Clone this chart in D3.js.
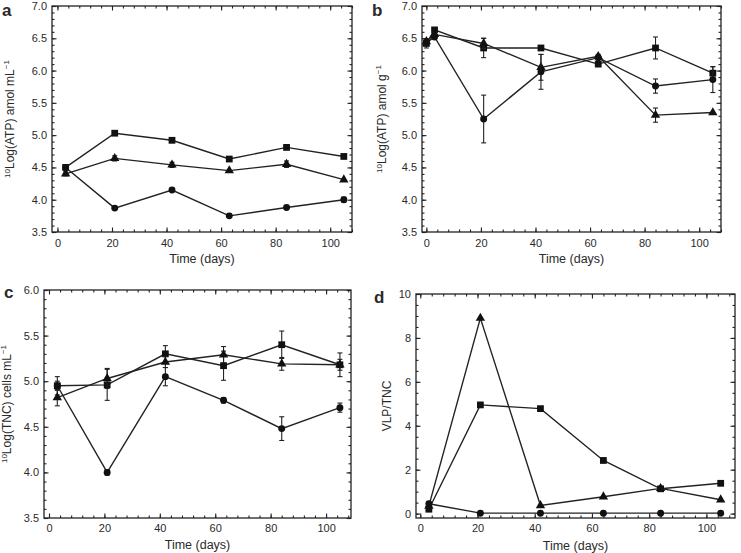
<!DOCTYPE html>
<html><head><meta charset="utf-8">
<script src="https://cdn.jsdelivr.net/npm/d3@7"></script>
<style>body{margin:0;background:#fff}svg{display:block}text{font-family:"Liberation Sans",Arial,sans-serif;fill:#2a2a2a}</style>
</head><body><svg id="c" width="741" height="553"></svg>
<script>
// ---- data ----
const daysA = [3, 21, 42, 63, 84, 105];
const atpWaterSq  = [4.50, 5.03, 4.92, 4.63, 4.81, 4.67];
const atpWaterTri = [4.40, 4.64, 4.54, 4.45, 4.55, 4.31];
const atpWaterCir = [4.50, 3.87, 4.15, 3.75, 3.88, 4.00];
const atpWaterSqErr  = [0.03, 0.02, 0.02, 0.02, 0.03, 0.02];
const atpWaterTriErr = [0.03, 0.04, 0.04, 0.02, 0.05, 0.02];
const atpWaterCirErr = [0.03, 0.02, 0.02, 0.02, 0.03, 0.04];

const daysB = [0, 3, 21, 42, 63, 84, 105];
const atpSedSq  = [6.42, 6.63, 6.35, 6.35, 6.10, 6.35, 5.96];
const atpSedTri = [6.45, 6.56, 6.42, 6.05, 6.22, 5.31, 5.35];
const atpSedCir = [6.43, 6.52, 5.25, 5.98, 6.20, 5.76, 5.86];
const atpSedSqErr  = [0.07, 0.03, 0.15, 0.03, 0.02, 0.17, 0.10];
const atpSedTriErr = [0.04, 0.03, 0.08, 0.20, 0.03, 0.11, 0.02];
const atpSedCirErr = [0.04, 0.03, 0.37, 0.27, 0.03, 0.11, 0.20];

const daysC = [3, 21, 42, 63, 84, 105];
const tncSq  = [4.95, 4.96, 5.30, 5.17, 5.40, 5.18];
const tncTri = [4.82, 5.03, 5.21, 5.29, 5.19, 5.18];
const tncCir = [4.95, 4.00, 5.05, 4.79, 4.48, 4.71];
const tncSqErr  = [0.10, 0.17, 0.09, 0.16, 0.15, 0.13];
const tncTriErr = [0.09, 0.11, 0.06, 0.09, 0.07, 0.06];
const tncCirErr = [0.05, 0.03, 0.10, 0.03, 0.13, 0.05];

const daysD = [3, 21, 42, 64, 84, 105];
const vlpSq  = [0.20, 4.95, 4.78, 2.42, 1.13, 1.38];
const vlpTri = [0.35, 8.90, 0.37, 0.77, 1.15, 0.63];
const vlpCir = [0.45, 0.02, 0.02, 0.02, 0.02, 0.02];

const xTicks = [0, 20, 40, 60, 80, 100];
const panelLetters = ["a", "b", "c", "d"];
const xTitle = "Time (days)";

// ---- layout ----
const svg = d3.select("#c");
const panels = [
  {letter:panelLetters[0], box:[52,352,6,232], xd:[-2,108], yd:[3.5,7.0], yMaj:d3.range(3.5,7.01,0.5), yMin:0.1, fmt:d3.format(".1f"),
   days:daysA, series:[[atpWaterSq,atpWaterSqErr,"sq"],[atpWaterTri,atpWaterTriErr,"tri"],[atpWaterCir,atpWaterCirErr,"cir"]],
   ylab:["10","Log(ATP) amol mL","\u22121"], ylx:14, lpos:[2,16], tickY:247, titleY:263},
  {letter:panelLetters[1], box:[422,721,6,232], xd:[-1.6,108], yd:[3.5,7.0], yMaj:d3.range(3.5,7.01,0.5), yMin:0.1, fmt:d3.format(".1f"),
   days:daysB, series:[[atpSedSq,atpSedSqErr,"sq"],[atpSedTri,atpSedTriErr,"tri"],[atpSedCir,atpSedCirErr,"cir"]],
   ylab:["10","Log(ATP) amol g","\u22121"], ylx:386, lpos:[372,16], tickY:247, titleY:263},
  {letter:panelLetters[2], box:[44,351,290,518], xd:[-1.8,109], yd:[3.5,6.0], yMaj:d3.range(3.5,6.01,0.5), yMin:0.1, fmt:d3.format(".1f"),
   days:daysC, series:[[tncSq,tncSqErr,"sq"],[tncTri,tncTriErr,"tri"],[tncCir,tncCirErr,"cir"]],
   ylab:["10","Log(TNC) cells mL","\u22121"], ylx:11, lpos:[4,298], tickY:532, titleY:549},
  {letter:panelLetters[3], box:[416,735,294,518], xd:[-1.5,110], yd:[-0.2,10], yMaj:d3.range(0,10.01,2), yMin:0.5, fmt:d3.format("d"),
   days:daysD, series:[[vlpSq,null,"sq"],[vlpTri,null,"tri"],[vlpCir,null,"cir"]],
   ylab:[null,"VLP/TNC",null], ylx:391, lpos:[374,303], tickY:532, titleY:550}
];

const ink = "#222";
panels.forEach(p => {
  const [x0,x1,y0,y1] = p.box;
  const x = d3.scaleLinear().domain(p.xd).range([x0,x1]);
  const y = d3.scaleLinear().domain(p.yd).range([y1,y0]);
  const g = svg.append("g");
  const xMinor = d3.range(0, 110, 4).filter(v => v>=p.xd[0] && v<=p.xd[1]);
  const yMinor = d3.range(Math.ceil(p.yd[0]/p.yMin)*p.yMin, p.yd[1]+1e-9, p.yMin).map(v=>+v.toFixed(3));

  function ax(gen, tr, vals, size, labels){
    const a = g.append("g").attr("transform", tr).call(gen.tickValues(vals).tickSize(size).tickSizeOuter(0).tickPadding(6).tickFormat(labels||(()=>"")));
    a.select(".domain").remove();
    a.selectAll("line").attr("stroke", ink).attr("stroke-width", 1.1);
    a.selectAll("text").attr("font-size", 11).attr("fill","#2a2a2a");
    return a;
  }
  ax(d3.axisBottom(x), `translate(0,${y1})`, xMinor, -2.5);
  ax(d3.axisTop(x), `translate(0,${y0})`, xMinor, -2.5);
  ax(d3.axisLeft(y), `translate(${x0},0)`, yMinor, -2.5);
  ax(d3.axisRight(y), `translate(${x1},0)`, yMinor, -2.5);
  const bx = ax(d3.axisBottom(x), `translate(0,${y1})`, xTicks, -4.5, d3.format("d"));
  bx.selectAll("text").attr("dy", null).attr("y", p.tickY - y1);
  ax(d3.axisTop(x), `translate(0,${y0})`, xTicks, -4.5);
  const ly = ax(d3.axisLeft(y), `translate(${x0},0)`, p.yMaj, -4.5, p.fmt);
  ly.selectAll("text").attr("x", -5);
  ax(d3.axisRight(y), `translate(${x1},0)`, p.yMaj, -4.5);

  g.append("rect").attr("x",x0).attr("y",y0).attr("width",x1-x0).attr("height",y1-y0)
    .attr("fill","none").attr("stroke",ink).attr("stroke-width",1.3);

  g.append("text").attr("x",(x0+x1)/2).attr("y",p.titleY).attr("text-anchor","middle").attr("font-size",12.5).text(xTitle);
  const yt = g.append("text").attr("transform",`translate(${p.ylx},${(y0+y1)/2}) rotate(-90)`)
    .attr("text-anchor","middle").attr("font-size",12);
  if (p.ylab[0]) yt.append("tspan").attr("font-size",8).attr("dy",-4).text(p.ylab[0]);
  yt.append("tspan").attr("dy", p.ylab[0]?4:0).text(p.ylab[1]);
  if (p.ylab[2]) yt.append("tspan").attr("font-size",8).attr("dy",-5).text(p.ylab[2]);
  g.append("text").attr("x",p.lpos[0]).attr("y",p.lpos[1]).attr("font-size",17).attr("font-weight","bold").attr("fill","#111").text(p.letter);

  const line = d3.line().x(d=>x(d[0])).y(d=>y(d[1]));
  const sym = {sq:d3.symbol().type(d3.symbolSquare).size(46),
               tri:d3.symbol().type(d3.symbolTriangle).size(38),
               cir:d3.symbol().type(d3.symbolCircle).size(38)};
  p.series.forEach(([vals, errs, kind]) => {
    const pts = p.days.map((d,i)=>[d, vals[i], errs?errs[i]:0]);
    g.append("path").attr("d", line(pts)).attr("fill","none").attr("stroke",ink).attr("stroke-width",1.4);
    pts.forEach(([d,v,e]) => {
      if (e > 0.02) {
        const cx = x(d), ya = y(v+e), yb = y(v-e);
        g.append("line").attr("x1",cx).attr("x2",cx).attr("y1",ya).attr("y2",yb).attr("stroke",ink).attr("stroke-width",1.1);
        [ya,yb].forEach(yy => g.append("line").attr("x1",cx-2.5).attr("x2",cx+2.5).attr("y1",yy).attr("y2",yy).attr("stroke",ink).attr("stroke-width",1.1));
      }
      g.append("path").attr("d", sym[kind]()).attr("transform",`translate(${x(d)},${y(v)})`).attr("fill","#111");
    });
  });
});
</script></body></html>
